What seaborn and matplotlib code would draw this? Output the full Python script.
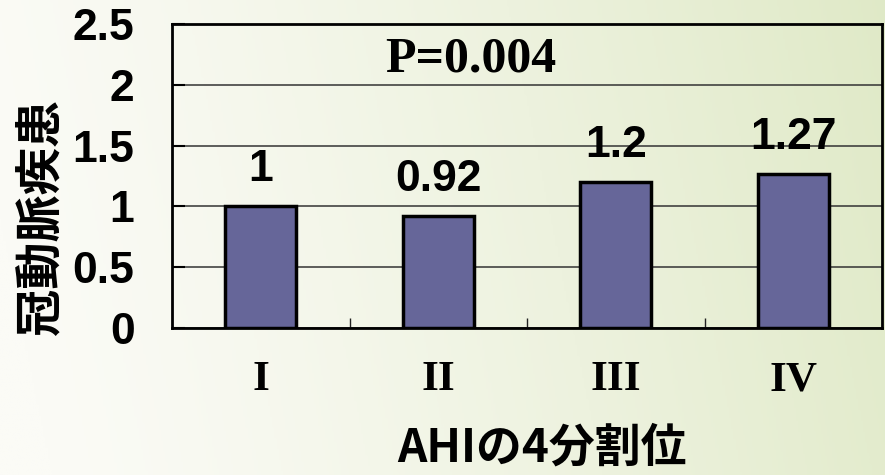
import numpy as np
import matplotlib
matplotlib.use("Agg")
import matplotlib.pyplot as plt
from matplotlib.colors import LinearSegmentedColormap
from matplotlib.ticker import FixedLocator
import pandas as pd
import seaborn as sns

# Data
quartiles = ["I", "II", "III", "IV"]
risk = [1.0, 0.92, 1.2, 1.27]
value_labels = ["1", "0.92", "1.2", "1.27"]
yticks = [0, 0.5, 1, 1.5, 2, 2.5]
ytick_labels = ["0", "0.5", "1", "1.5", "2", "2.5"]
p_text = "P=0.004"
xlabel = "AHIの4分割位"
ylabel = "冠動脈疾患"

sns.set_theme(style="white")
plt.rcParams["font.family"] = ["Noto Sans CJK JP", "DejaVu Sans"]

NUM_FONT = ["Liberation Sans Narrow", "Liberation Sans"]
SERIF_FONT = ["Liberation Serif", "DejaVu Serif"]

fig = plt.figure(figsize=(8.85, 4.75), dpi=100)

# soft white-to-green background
bg = fig.add_axes([0, 0, 1, 1], zorder=-10)
gx = np.linspace(0, 1, 400)
gy = np.linspace(0, 1, 220)
X, Y = np.meshgrid(gx, gy)
t = np.clip(0.92 * X + 0.1 * (1 - Y) - 0.04, 0, 1) ** 1.3
cmap = LinearSegmentedColormap.from_list(
    "bg", [(251 / 255, 251 / 255, 246 / 255), (223 / 255, 233 / 255, 198 / 255)]
)
bg.imshow(t, cmap=cmap, aspect="auto", extent=[0, 1, 0, 1], origin="upper",
          vmin=0, vmax=1)
bg.set_axis_off()

ax = fig.add_axes([172 / 885, 1 - 328 / 475, 710 / 885, 304 / 475])
ax.set_facecolor("none")

df = pd.DataFrame({"quartile": quartiles, "risk": risk})
sns.barplot(data=df, x="quartile", y="risk", color="#666699", saturation=1,
            width=0.4, edgecolor="black", linewidth=2.5, ax=ax, zorder=3)

ax.set_ylim(0, 2.5)
ax.set_xlim(-0.5, 3.5)
ax.set_yticks(yticks)
ax.set_yticklabels(ytick_labels, fontfamily=NUM_FONT, fontweight="bold",
                   fontsize=32, color="black")
ax.set_xticks(range(len(quartiles)))
ax.set_xticklabels(quartiles, fontfamily=SERIF_FONT, fontweight="bold",
                   fontsize=31, color="black")

ax.yaxis.grid(True, color="#333333", linewidth=1.1, zorder=1)
ax.set_axisbelow(True)
for s in ax.spines.values():
    s.set_color("black")
    s.set_linewidth(2)
    s.set_visible(True)

ax.tick_params(axis="y", direction="in", length=9, width=1.5, color="black",
               pad=27, left=True)
ax.tick_params(axis="x", which="major", length=0, pad=24)
ax.xaxis.set_minor_locator(FixedLocator([0.5, 1.5, 2.5]))
ax.tick_params(axis="x", which="minor", direction="in", length=7, width=1,
               color="#222222", bottom=True)

for i, (v, lab) in enumerate(zip(risk, value_labels)):
    ax.annotate(lab, (i, v), xytext=(0, 18), textcoords="offset points",
                ha="center", va="baseline", fontfamily=NUM_FONT,
                fontweight="bold", fontsize=32, color="black", zorder=5)

ax.text(0.421, 0.882, p_text, transform=ax.transAxes, ha="center", va="center",
        fontfamily=SERIF_FONT, fontweight="bold", fontsize=36, color="black")

ax.set_xlabel(xlabel, fontsize=33, fontweight="bold", color="black",
              va="center")
ax.xaxis.set_label_coords(0.521, -0.395)
ax.set_ylabel(ylabel, fontsize=34, fontweight="bold", color="black",
              va="center")
ax.yaxis.set_label_coords(-0.186, 0.366)

fig.savefig("out.png", dpi=100)
